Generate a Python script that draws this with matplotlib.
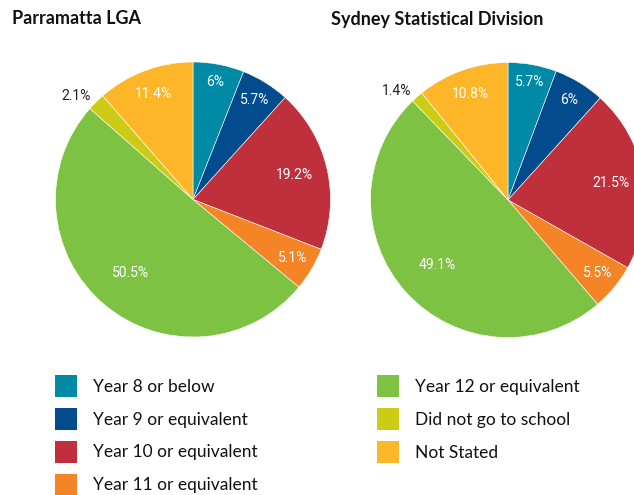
import matplotlib.pyplot as plt
import numpy as np
from matplotlib.patches import Patch

categories = ["Year 8 or below", "Year 9 or equivalent", "Year 10 or equivalent",
              "Year 11 or equivalent", "Year 12 or equivalent", "Did not go to school",
              "Not Stated"]
parramatta = [6, 5.7, 19.2, 5.1, 50.5, 2.1, 11.4]
sydney = [5.7, 6, 21.5, 5.5, 49.1, 1.4, 10.8]
pct_labels_left = ["6%", "5.7%", "19.2%", "5.1%", "50.5%", "2.1%", "11.4%"]
pct_labels_right = ["5.7%", "6%", "21.5%", "5.5%", "49.1%", "1.4%", "10.8%"]

colors = ["#008AA6", "#024C8E", "#C0303C", "#F48425", "#7DC242", "#CCCC16", "#FDB628"]

W, H = 634, 495
fig = plt.figure(figsize=(W / 100, H / 100), dpi=100)
ax = fig.add_axes([0, 0, 1, 1])
ax.axis('off')

# label distance from centre, as a fraction of the radius, per slice
label_r = [0.87, 0.85, 0.76, 0.84, 0.70, 1.06, 0.82]


def draw_pie(values, labels, cx, cy, r):
    wedges, _ = ax.pie(values, colors=colors, startangle=90, counterclock=False,
                       center=(cx, cy), radius=r,
                       wedgeprops=dict(edgecolor='white', linewidth=0.4))
    for w, lab, lr in zip(wedges, labels, label_r):
        ang = np.deg2rad((w.theta1 + w.theta2) / 2)
        x = cx + lr * r * np.cos(ang)
        y = cy + lr * r * np.sin(ang)
        if lr > 1:
            # small slice: label sits outside, dark
            ax.text(x, y, lab, ha='right', va='center', color='#222222',
                    fontsize=10, family='Roboto')
        else:
            ax.text(x, y, lab, ha='center', va='center', color='white',
                    fontsize=10, family='Roboto')


draw_pie(parramatta, pct_labels_left, 193, H - 199.5, 137.5)
draw_pie(sydney, pct_labels_right, 508, H - 200, 137.5)
ax.set_xlim(0, W)
ax.set_ylim(0, H)
ax.set_aspect('equal')

ax.text(12, H - 19, "Parramatta LGA", fontsize=13, fontweight='bold',
        family='Lato', va='center', ha='left', color='#111111')
ax.text(331, H - 19, "Sydney Statistical Division", fontsize=13, fontweight='bold',
        family='Lato', va='center', ha='left', color='#111111')

handles = [Patch(facecolor=c, edgecolor='none') for c in colors]
leg = ax.legend(handles, categories, ncol=2, loc='upper left',
                bbox_to_anchor=(55 / W, 1 - 375 / H), frameon=False,
                prop={'family': 'Lato', 'size': 12.5},
                handlelength=1.26, handleheight=1.57, handletextpad=0.92,
                labelspacing=0.63, columnspacing=6.9, borderaxespad=0,
                borderpad=0)
for t in leg.get_texts():
    t.set_color('#111111')

fig.savefig('out.png', dpi=100)
